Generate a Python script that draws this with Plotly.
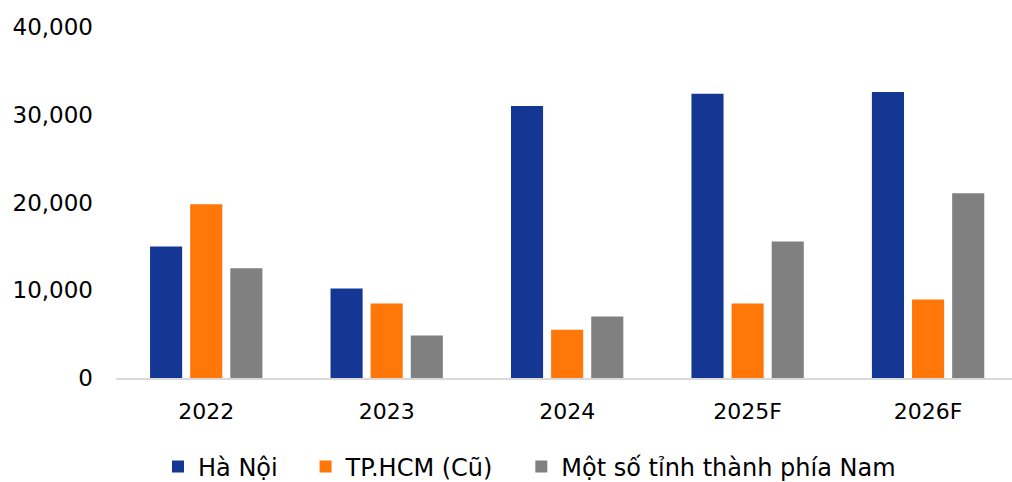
import plotly.graph_objects as go

categories = ["2022", "2023", "2024", "2025F", "2026F"]
ha_noi = [15000, 10200, 31000, 32400, 32600]
tp_hcm = [19800, 8500, 5500, 8500, 8950]
phia_nam = [12500, 4850, 7000, 15550, 21050]
series_names = ["Hà Nội", "TP.HCM (Cũ)", "Một số tỉnh thành phía Nam"]
colors = ["#133793", "#FF7708", "#808080"]

pad = "\u00a0\u00a0\u00a0"
fig = go.Figure()
for i, (name, vals, col) in enumerate(zip(series_names, [ha_noi, tp_hcm, phia_nam], colors)):
    fig.add_trace(go.Bar(x=categories, y=vals, name=name + (pad if i < 2 else ""),
                         marker_color=col, marker_line_width=0))

W, H = 1012, 482
left, top, bottom = 116, 27, 378
fig.update_layout(
    width=W, height=H,
    margin=dict(l=left, r=0, t=top, b=H - bottom, autoexpand=False),
    plot_bgcolor="white", paper_bgcolor="white",
    barmode="group", bargap=0.333, bargroupgap=0.2,
    font=dict(family="DejaVu Sans", size=22, color="#000000"),
    showlegend=True,
    legend=dict(orientation="h", x=(158 - left) / (W - left), xanchor="left",
                y=-(467 - bottom) / (bottom - top), yanchor="middle",
                font=dict(size=24), itemwidth=30, tracegroupgap=0,
                bgcolor="rgba(0,0,0,0)"),
)
fig.update_xaxes(showgrid=False, showline=True, linecolor="#d9d9d9", linewidth=2,
                 ticks="", tickfont=dict(size=22), ticklabelstandoff=13,
                 range=[-0.5, 4.465], domain=[0, 1])
fig.update_yaxes(range=[0, 40000], tickvals=[0, 10000, 20000, 30000, 40000],
                 tickformat=",d", showgrid=False, zeroline=False, showline=False,
                 tickfont=dict(size=23), ticklabelstandoff=22)

fig.write_html("out.html")
